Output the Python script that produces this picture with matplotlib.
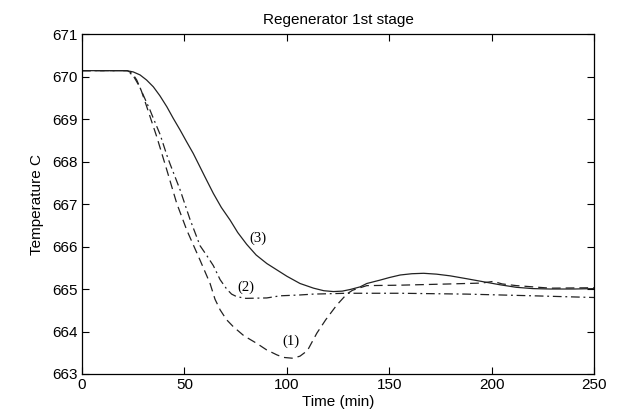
import numpy as np
import matplotlib
matplotlib.use("Agg")
import matplotlib.pyplot as plt

# curve (1) - dashed
t1 = [0, 22, 24.5, 26.7, 29, 31.6, 36.5, 41.4, 46.2, 51.1, 57.6, 62.5, 64.9, 67.4, 70.5, 73.9,
      79, 85.3, 90, 95.1, 98.3, 103, 106.4, 110, 114.6, 119, 124.3, 129.2, 132, 135.7, 139,
      155, 180, 195, 200.8, 205, 212, 228.5, 250]
T1 = [670.14, 670.14, 670.08, 669.92, 669.66, 669.29, 668.58, 667.8, 667.02, 666.39, 665.68,
      665.13, 664.76, 664.51, 664.28, 664.11, 663.9, 663.72, 663.57, 663.45, 663.39, 663.37,
      663.42, 663.55, 663.96, 664.28, 664.62, 664.88, 664.97, 665.03, 665.08, 665.09, 665.12,
      665.14, 665.18, 665.12, 665.08, 665.02, 665.03]

# curve (2) - dash-dot
t2 = [0, 22, 25, 26.7, 28.3, 30.5, 33.2, 34.8, 38.1, 41.4, 43, 47.9, 52.7, 57.6, 61, 64.1,
      67.4, 70.6, 73, 75.5, 80, 90.2, 96.7, 106.4, 112.8, 129.2, 145.5, 155.3, 187.8, 220.4, 250]
T2 = [670.14, 670.14, 670.02, 669.88, 669.74, 669.5, 669.21, 669.02, 668.64, 668.15, 667.94,
      667.33, 666.64, 666.02, 665.78, 665.55, 665.22, 665.0, 664.88, 664.82, 664.78, 664.79,
      664.84, 664.86, 664.88, 664.9, 664.9, 664.9, 664.88, 664.84, 664.8]

# curve (3) - solid
t3 = [0, 21.8, 25, 28.3, 31.5, 34.8, 38, 41.4, 44.5, 47.9, 51, 54.3, 57, 60, 64.1, 68, 72.3,
      76, 80.4, 85, 90.2, 95.1, 100, 106.4, 113, 118, 122.7, 127, 131, 135.7, 139, 145.5, 150,
      155.3, 161, 166.7, 173, 179.7, 188, 196, 204, 212, 220, 228.5, 240, 250]
T3 = [670.14, 670.14, 670.11, 670.04, 669.92, 669.76, 669.55, 669.29, 669.02, 668.74, 668.47,
      668.19, 667.93, 667.64, 667.25, 666.92, 666.62, 666.33, 666.05, 665.8, 665.6, 665.45,
      665.3, 665.13, 665.02, 664.96, 664.94, 664.95, 664.99, 665.05, 665.13, 665.21, 665.27,
      665.33, 665.36, 665.37, 665.35, 665.31, 665.24, 665.17, 665.1, 665.04, 665.01, 665.0,
      665.0, 665.01]

labels = ["(1)", "(2)", "(3)"]
label_pos = [(102, 663.76), (80, 665.05), (86, 666.2)]

plt.rcParams['font.family'] = ['Liberation Sans', 'DejaVu Sans']

fig = plt.figure(figsize=(6.19, 4.16), dpi=100)
ax = fig.add_axes([0.1325, 0.101, 0.8275, 0.817])

col = '#222222'
ax.plot(t1, T1, color=col, lw=0.9, dashes=(7, 4))
ax.plot(t2, T2, color=col, lw=0.9, dashes=(7, 3, 1.5, 3))
ax.plot(t3, T3, color=col, lw=0.9)

for lab, (x, y) in zip(labels, label_pos):
    ax.text(x, y, lab, fontsize=10.5, family=['Liberation Serif'], ha='center', va='center')

ax.set_xlim(0, 250)
ax.set_ylim(663, 671)
ax.set_xticks([0, 50, 100, 150, 200, 250])
ax.set_yticks(range(663, 672))
ax.tick_params(direction='in', top=True, right=True, length=5, width=0.8, labelsize=11, pad=3)
for s in ax.spines.values():
    s.set_linewidth(0.9)

ax.set_title("Regenerator 1st stage", fontsize=11, pad=7)
ax.set_xlabel("Time (min)", fontsize=11, labelpad=2)
ax.set_ylabel("Temperature C", fontsize=11, labelpad=6)

plt.savefig("out.png", dpi=100)
